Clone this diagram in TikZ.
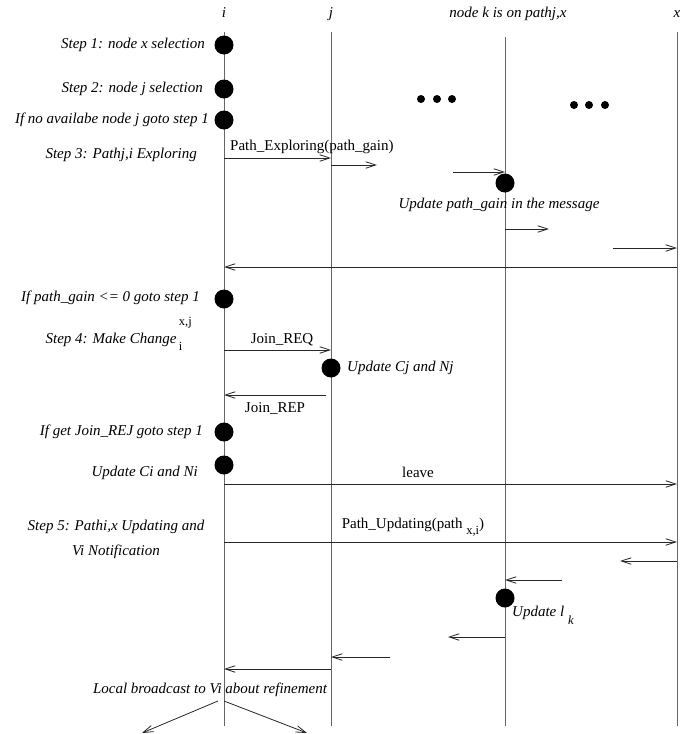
\documentclass[tikz,border=0pt]{standalone}
\usepackage{fontspec}
\setmainfont{Liberation Serif}
\usetikzlibrary{arrows.meta}

\newcommand\dsize{\fontsize{15}{18}\selectfont}
\newcommand\ssize{\fontsize{12.5}{12.5}\selectfont}

\tikzset{
  life/.style={draw=black!60, line width=0.8pt},
  msg/.style={draw=black!85, line width=0.8pt, -{Straight Barb[length=10pt,width=6.5pt]}},
  dot/.style={circle, fill=black, inner sep=0pt, minimum size=19pt},
  tick/.style={circle, fill=black, inner sep=0pt, minimum size=8pt},
  lbl/.style={font=\dsize\itshape, inner sep=0pt, text height=10pt, text depth=3pt},
  tag/.style={font=\dsize, inner sep=0pt, text height=10pt, text depth=3pt},
}

\begin{document}
\begin{tikzpicture}[x=1pt, y=-1pt]
  \useasboundingbox (0,0) rectangle (690,734);
  % heads and lifelines
  \node[lbl] (hi) at (224,14) {i};
  \node[lbl] (hj) at (331,14) {j};
  \node[lbl] (hk) at (508,14) {node k is on pathj,x};
  \node[lbl] (hx) at (677,14) {x};
  \coordinate (i0) at (224,32); \coordinate (i1) at (224,726);
  \coordinate (j0) at (331,32); \coordinate (j1) at (331,726);
  \coordinate (k0) at (505,37); \coordinate (k1) at (505,726);
  \coordinate (x0) at (677,32); \coordinate (x1) at (677,726);
  \foreach \l in {i,j,k,x} \draw[life] (\l0) -- (\l1);

  % events
  \foreach \y [count=\n] in {45,89,120,299,432,465} \node[dot] (di\n) at (i0 |- 0,\y) {};
  \node[dot] (dj1) at (j0 |- 0,368) {};
  \node[dot] (dk1) at (k0 |- 0,183) {};
  \node[dot] (dk2) at (k0 |- 0,598) {};
  \foreach \x in {421,437,452} \node[tick] (ea\x) at (\x,99) {};
  \foreach \x in {574,589,605} \node[tick] (eb\x) at (\x,105) {};

  % loose ends of the messages
  \coordinate (m2) at (377,165);
  \coordinate (m3) at (453,172);
  \coordinate (m4) at (549,229);
  \coordinate (m5) at (613,248);
  \coordinate (m8) at (326,395);
  \coordinate (m11) at (620,561);
  \coordinate (m12) at (562,580);
  \coordinate (m13) at (448,637);
  \coordinate (m14) at (390,657);
  \coordinate (b0) at (218,701); \coordinate (b1) at (224,701);
  \coordinate (bl) at (142,733); \coordinate (br) at (307,733);

  % messages
  \draw[msg] (i0 |- 0,158) -- (j0 |- 0,158);
  \draw[msg] (j0 |- m2) -- (m2);
  \draw[msg] (m3) -- (k0 |- m3);
  \draw[msg] (k0 |- m4) -- (m4);
  \draw[msg] (m5) -- (x0 |- m5);
  \draw[msg] (x0 |- 0,267) -- (i0 |- 0,267);
  \draw[msg] (i0 |- 0,350) -- (j0 |- 0,350);
  \draw[msg] (m8) -- (i0 |- m8);
  \draw[msg] (i0 |- 0,484) -- (x0 |- 0,484);
  \draw[msg] (i0 |- 0,542) -- (x0 |- 0,542);
  \draw[msg] (x0 |- m11) -- (m11);
  \draw[msg] (m12) -- (k0 |- m12);
  \draw[msg] (k0 |- m13) -- (m13);
  \draw[msg] (m14) -- (j0 |- m14);
  \draw[msg] (j0 |- 0,669) -- (i0 |- 0,669);
  \draw[msg] (b0) -- (bl);
  \draw[msg] (b1) -- (br);

  % labels
  \node[lbl, anchor=east] (s1) at (205,45) {Step 1: node x selection};
  \node[lbl, anchor=east] (s2) at (203,89) {Step 2: node j selection};
  \node[lbl, anchor=east] (s2b) at (209,120) {If no availabe node j goto step 1};
  \node[lbl, anchor=east] (s3) at (197,155) {Step 3: Pathj,i Exploring};
  \node[tag, anchor=west] (pe) at (230,147) {Path\_Exploring(path\_gain)};
  \node[lbl] (upg) at (499,205) {Update path\_gain in the message};
  \node[lbl, anchor=east] (s3b) at (200,298) {If path\_gain <= 0 goto step 1};
  \node[lbl, anchor=east] (s4) at (192,340) {Step 4: Make Change\,\rlap{\raisebox{-7pt}{\upshape\ssize i}}\raisebox{18pt}{\upshape\ssize x,j}};
  \node[tag] (jreq) at (282,340) {Join\_REQ};
  \node[lbl, anchor=west] (ucj) at (347,368) {Update Cj and Nj};
  \node[tag] (jrep) at (275,409) {Join\_REP};
  \node[lbl, anchor=east] (s4b) at (203,432) {If get Join\_REJ goto step 1};
  \node[lbl, anchor=east] (uci) at (198,473) {Update Ci and Ni};
  \node[tag] (lv) at (418,474) {leave};
  \node[font=\fontsize{15}{25}\selectfont\itshape, align=center, inner sep=0pt] (s5) at (116,539) {Step 5: Pathi,x Updating and\\Vi Notification};
  \node[tag] (pu) at (413,525) {Path\_Updating(path \raisebox{-6pt}{\ssize x,i})};
  \node[lbl, anchor=west] (ulk) at (512,613) {Update l\ \raisebox{-8pt}{\ssize k}};
  \node[lbl] (lb) at (210,690) {Local broadcast to Vi about refinement};
\end{tikzpicture}
\end{document}
